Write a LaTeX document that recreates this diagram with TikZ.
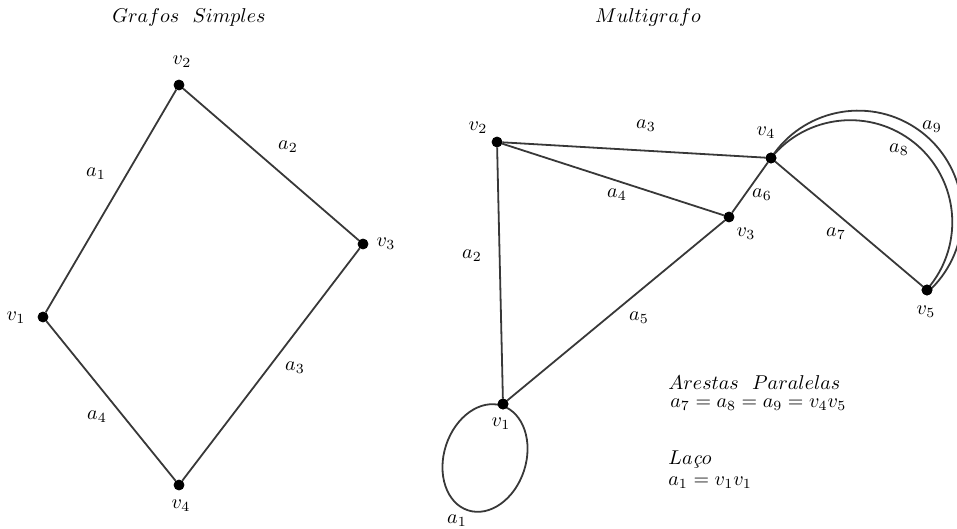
\documentclass[tikz,border=0pt]{standalone}
\usepackage{amsmath, amssymb}
\usepackage{tikz}
\usetikzlibrary{positioning, calc}
\tikzset{
  vertex/.style={circle, draw=black, fill=black,
                 inner sep=0pt, minimum size=5pt},
  edge/.style={draw=black!78, line width=0.9pt},
  lbl/.style={inner sep=1pt, font=\normalsize},
}

\begin{document}
\begin{tikzpicture}[x=0.5pt, y=-0.5pt]
    \useasboundingbox (0,0) rectangle (957,529);
    %% grafo simples
    \node[lbl] (t1) at (189,18) {$Grafos\ \ Simples$};
    \node[vertex] (s1) at (43,317) {};
    \node[vertex] (s2) at (179,85) {};
    \node[vertex] (s3) at (363,244) {};
    \node[vertex] (s4) at (179,485) {};
    \draw[edge] (s1)--(s2)--(s3)--(s4)--(s1);
    \node[lbl] (ls1) at (16,318) {$v_1$};
    \node[lbl] (ls2) at (182,62) {$v_2$};
    \node[lbl] (ls3) at (386,244) {$v_3$};
    \node[lbl] (ls4) at (181,506) {$v_4$};
    \node[lbl] (sa1) at (96,174) {$a_1$};
    \node[lbl] (sa2) at (288,147) {$a_2$};
    \node[lbl] (sa3) at (295,368) {$a_3$};
    \node[lbl] (sa4) at (97,417) {$a_4$};
    %% multigrafo
    \node[lbl] (t2) at (648,18) {$Multigrafo$};
    \node[vertex] (v1) at (503,404) {};
    \node[vertex] (v2) at (497,142) {};
    \node[vertex] (v3) at (729,217) {};
    \node[vertex] (v4) at (771,158) {};
    \node[vertex] (v5) at (927,290) {};
    \draw[edge] (v2)--(v4);
    \draw[edge] (v2)--(v3);
    \draw[edge] (v2)--(v1);
    \draw[edge] (v1)--(v3);
    \draw[edge] (v3)--(v4);
    \draw[edge] (v4)--(v5);
    %% arestas paralelas
    \draw[edge] (v4.center) arc[start angle=147, end angle=-48, radius=52pt];
    \draw[edge] (v4.center) arc[start angle=141, end angle=-41.5, radius=51pt];
    %% laco
    \coordinate (loopc) at (485,458);
    \draw[edge, rotate around={-18:(loopc)}] (loopc) ellipse [x radius=41, y radius=55];
    \node[vertex] at (v1) {};
    \node[vertex] at (v4) {};
    \node[vertex] at (v5) {};
    \node[lbl] (l1) at (501,424) {$v_1$};
    \node[lbl] (l2) at (478,128) {$v_2$};
    \node[lbl] (l3) at (746,234) {$v_3$};
    \node[lbl] (l4) at (766,133) {$v_4$};
    \node[lbl] (l5) at (926,312) {$v_5$};
    \node[lbl] (a1) at (457,521) {$a_1$};
    \node[lbl] (a2) at (472,256) {$a_2$};
    \node[lbl] (a3) at (646,126) {$a_3$};
    \node[lbl] (a4) at (617,195) {$a_4$};
    \node[lbl] (a5) at (639,318) {$a_5$};
    \node[lbl] (a6) at (762,195) {$a_6$};
    \node[lbl] (a7) at (836,234) {$a_7$};
    \node[lbl] (a8) at (899,150) {$a_8$};
    \node[lbl] (a9) at (932,127) {$a_9$};
    %% legendas
    \node[lbl, anchor=west] (par) at (666,383) {$Arestas\ \ Paralelas$};
    \node[lbl, anchor=west] (pareq) at (668,405) {$a_7=a_8=a_9=v_4v_5$};
    \node[lbl, anchor=west] (laco) at (666,460) {$La\text{\textit{ç}}o$};
    \node[lbl, anchor=west] (lacoeq) at (666,483) {$a_1=v_1v_1$};
\end{tikzpicture}
\end{document}
